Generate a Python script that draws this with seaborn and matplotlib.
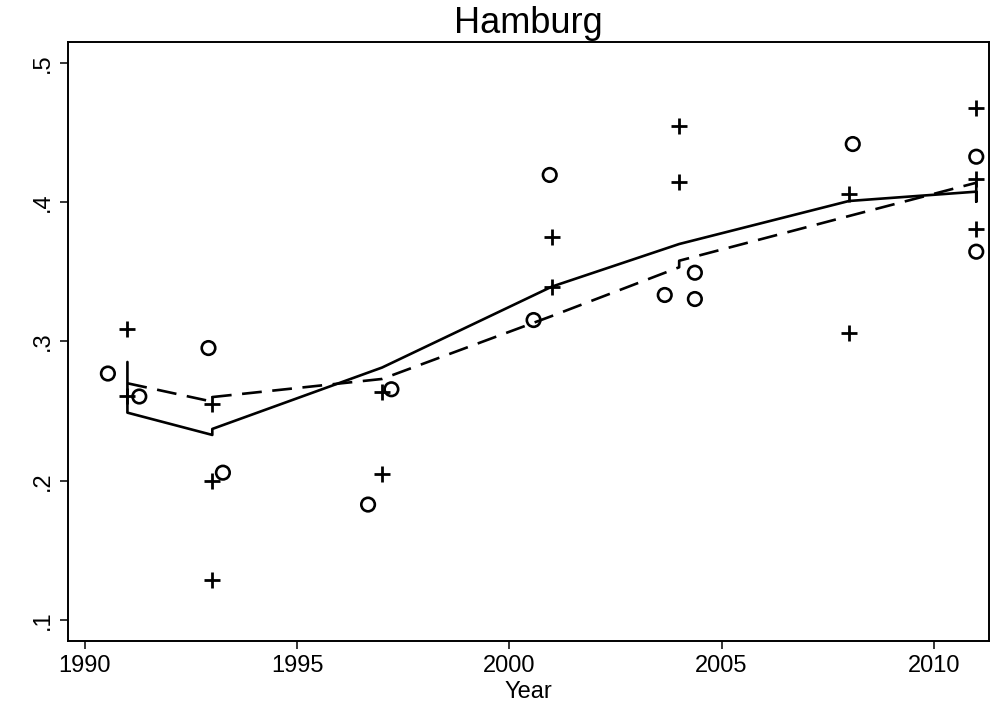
import matplotlib
matplotlib.use("Agg")
import matplotlib.pyplot as plt
import seaborn as sns
import pandas as pd

# Observed values, first series (plus markers)
plus_year = [1991, 1991, 1993, 1993, 1993, 1997, 1997, 2001, 2001,
             2004, 2004, 2008, 2008, 2011, 2011, 2011]
plus_val = [0.309, 0.261, 0.255, 0.200, 0.129, 0.264, 0.205, 0.375, 0.339,
            0.455, 0.4145, 0.406, 0.306, 0.4675, 0.417, 0.381]

# Observed values, second series (hollow circles)
circ_year = [1990.54, 1991.28, 1992.91, 1993.25, 1996.67, 1997.22, 2000.57,
             2000.95, 2003.66, 2004.37, 2004.37, 2008.09, 2011.0, 2011.0]
circ_val = [0.277, 0.2605, 0.2953, 0.2058, 0.1829, 0.2657, 0.3154,
            0.4196, 0.3334, 0.3494, 0.3305, 0.4418, 0.4327, 0.3645]

# Fitted line for the first series (drawn in data order)
solid_year = [1991, 1991, 1993, 1993, 1997, 2001, 2004, 2008, 2011, 2011, 2011]
solid_val = [0.2853, 0.2489, 0.2329, 0.2372, 0.2813, 0.3394, 0.370, 0.4009,
             0.4076, 0.4004, 0.4136]

# Fitted line for the second series (drawn in data order)
dash_year = [1991, 1993, 1993, 1997, 2001, 2004, 2004, 2008, 2011]
dash_val = [0.270, 0.2568, 0.2601, 0.2731, 0.3183, 0.3533, 0.358, 0.3901, 0.414]

x_ticks = [1990, 1995, 2000, 2005, 2010]
y_ticks = [0.1, 0.2, 0.3, 0.4, 0.5]
y_tick_labels = [".1", ".2", ".3", ".4", ".5"]

sns.set_style("ticks")
plt.rcParams["font.family"] = ["Liberation Sans", "DejaVu Sans"]

W, H = 993, 703
FRAME_TOP, FRAME_BOTTOM = 42, 641
fig = plt.figure(figsize=(W / 100, H / 100), dpi=100)
ax = fig.add_axes([68 / W, 1 - FRAME_BOTTOM / H, (989 - 68) / W,
                   (FRAME_BOTTOM - FRAME_TOP) / H])

plus_df = pd.DataFrame({"Year": plus_year, "val": plus_val})
circ_df = pd.DataFrame({"Year": circ_year, "val": circ_val})
solid_df = pd.DataFrame({"Year": solid_year, "val": solid_val})
dash_df = pd.DataFrame({"Year": dash_year, "val": dash_val})

sns.lineplot(data=solid_df, x="Year", y="val", sort=False, estimator=None,
             color="black", linewidth=1.9, ax=ax)
sns.lineplot(data=dash_df, x="Year", y="val", sort=False, estimator=None,
             color="black", linewidth=1.9, dashes=False, ax=ax)
ax.lines[-1].set_dashes([7.5, 4])
ax.lines[-1].set_dash_capstyle("butt")

sns.scatterplot(data=plus_df, x="Year", y="val", marker="+", s=120,
                color="black", linewidth=2.0, ax=ax)
sns.scatterplot(data=circ_df, x="Year", y="val", marker="o", s=95,
                facecolor="none", edgecolor="black", linewidth=1.9, ax=ax)

# .1 sits at y=620 px and .5 at y=63 px
px_per_unit = (620 - 63) / 0.4
ax.set_xlim(1989.6, 2011.3)
ax.set_ylim(0.1 - (FRAME_BOTTOM - 620) / px_per_unit,
            0.5 + (63 - FRAME_TOP) / px_per_unit)
ax.set_xticks(x_ticks)
ax.set_yticks(y_ticks)
ax.set_yticklabels(y_tick_labels, rotation=90, va="center")
ax.tick_params(axis="both", direction="out", length=6, width=1.1,
               labelsize=17, color="black", labelcolor="black", pad=4)
for side in ["left", "right", "top", "bottom"]:
    ax.spines[side].set_visible(True)
    ax.spines[side].set_linewidth(1.4)
    ax.spines[side].set_color("black")

ax.set_xlabel("Year", fontsize=17, labelpad=3, color="black")
ax.set_ylabel("")
fig.text(0.5 * (68 + 989) / W, 1 - 33 / H, "Hamburg", fontsize=26,
         ha="center", va="baseline", color="black")
ax.grid(False)

fig.savefig("out.png", dpi=100, facecolor="white")
